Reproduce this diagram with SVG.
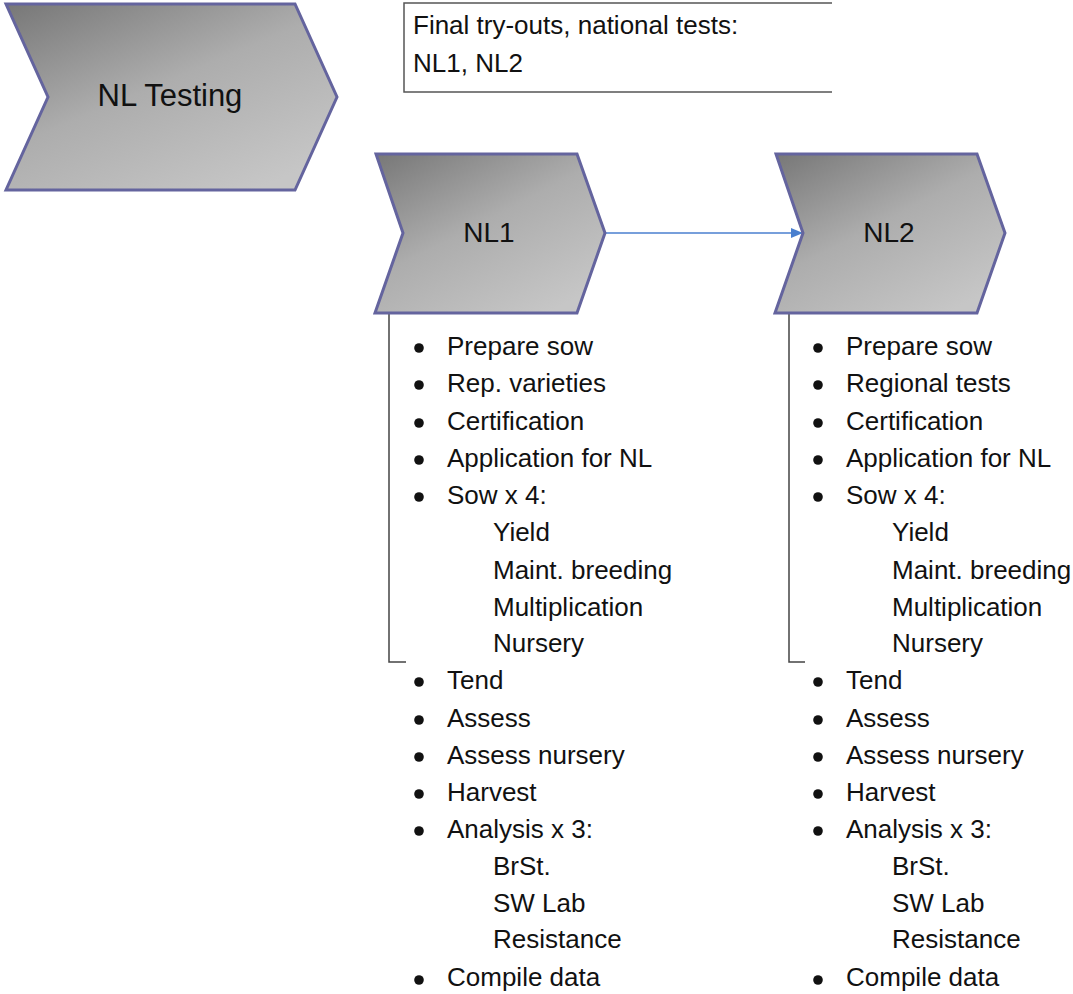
<svg xmlns="http://www.w3.org/2000/svg" width="1073" height="994" viewBox="0 0 1073 994">
  <defs>
    <linearGradient id="chevFill" x1="0" y1="0" x2="0.75" y2="1">
      <stop offset="0" stop-color="#777777"/>
      <stop offset="0.5" stop-color="#adadad"/>
      <stop offset="1" stop-color="#c6c6c6"/>
    </linearGradient>
    <marker id="arrowHead" viewBox="0 0 12 10" refX="12" refY="5" markerWidth="12" markerHeight="10" markerUnits="userSpaceOnUse" orient="auto">
      <path d="M0,0 L12,5 L0,10 Z" fill="#4a7fcf"/>
    </marker>
  </defs>
  <style>
    .chev { fill: url(#chevFill); stroke: #64649e; stroke-width: 3; stroke-linejoin: miter; }
    .title { font-family: "Liberation Sans", Arial, sans-serif; fill: #111; text-anchor: middle; }
    .txt { font-family: "Liberation Sans", Arial, sans-serif; font-size: 26px; fill: #111; }
    .bul { fill: #111; }
    .frame { fill: none; stroke: #555; stroke-width: 1.5; }
    .brk { fill: none; stroke: #444; stroke-width: 1.5; }
    .conn { stroke: #4a7fcf; stroke-width: 1.5; fill: none; }
  </style>
  <rect width="1073" height="994" fill="#ffffff"/>

  <!-- top-level phase -->
  <g id="nl-testing">
    <path class="chev" d="M6,4 L295,4 L337,97 L295,190 L6,190 L48,97 Z"/>
    <text class="title" x="170" y="106" font-size="31">NL Testing</text>
  </g>

  <!-- description box (open on the right) -->
  <g id="description">
    <path class="frame" d="M832,3 L404,3 L404,92 L832,92"/>
    <text class="txt" x="413" y="34">Final try-outs, national tests:</text>
    <text class="txt" x="413" y="72">NL1, NL2</text>
  </g>

  <!-- connectors -->
  <g id="connectors">
    <line class="conn" x1="605" y1="233" x2="803" y2="233" marker-end="url(#arrowHead)"/>
    <path class="brk" d="M389,313 L389,662 L406,662"/>
    <path class="brk" d="M789,313 L789,662 L805,662"/>
  </g>

  <!-- NL1 step -->
  <g id="nl1">
    <path class="chev" d="M376,154 L577,154 L605,233 L577,313 L375,313 L403,233 Z"/>
    <text class="title" x="489" y="242" font-size="28">NL1</text>
    <g class="bul">
      <circle cx="419" cy="348" r="4.8"/>
      <circle cx="419" cy="385" r="4.8"/>
      <circle cx="419" cy="423" r="4.8"/>
      <circle cx="419" cy="460" r="4.8"/>
      <circle cx="419" cy="497" r="4.8"/>
      <circle cx="419" cy="682" r="4.8"/>
      <circle cx="419" cy="720" r="4.8"/>
      <circle cx="419" cy="757" r="4.8"/>
      <circle cx="419" cy="794" r="4.8"/>
      <circle cx="419" cy="831" r="4.8"/>
      <circle cx="419" cy="980" r="4.8"/>
    </g>
    <text class="txt" x="447" y="355">Prepare sow</text>
    <text class="txt" x="447" y="392">Rep. varieties</text>
    <text class="txt" x="447" y="430">Certification</text>
    <text class="txt" x="447" y="467">Application for NL</text>
    <text class="txt" x="447" y="504">Sow x 4:</text>
    <text class="txt" x="493" y="541">Yield</text>
    <text class="txt" x="493" y="579">Maint. breeding</text>
    <text class="txt" x="493" y="616">Multiplication</text>
    <text class="txt" x="493" y="652">Nursery</text>
    <text class="txt" x="447" y="689">Tend</text>
    <text class="txt" x="447" y="727">Assess</text>
    <text class="txt" x="447" y="764">Assess nursery</text>
    <text class="txt" x="447" y="801">Harvest</text>
    <text class="txt" x="447" y="838">Analysis x 3:</text>
    <text class="txt" x="493" y="875">BrSt.</text>
    <text class="txt" x="493" y="912">SW Lab</text>
    <text class="txt" x="493" y="948">Resistance</text>
    <text class="txt" x="447" y="986">Compile data</text>
  </g>

  <!-- NL2 step -->
  <g id="nl2">
    <path class="chev" d="M776,154 L977,154 L1005,233 L977,313 L775,313 L803,233 Z"/>
    <text class="title" x="889" y="242" font-size="28">NL2</text>
    <g class="bul">
      <circle cx="818" cy="348" r="4.8"/>
      <circle cx="818" cy="385" r="4.8"/>
      <circle cx="818" cy="423" r="4.8"/>
      <circle cx="818" cy="460" r="4.8"/>
      <circle cx="818" cy="497" r="4.8"/>
      <circle cx="818" cy="682" r="4.8"/>
      <circle cx="818" cy="720" r="4.8"/>
      <circle cx="818" cy="757" r="4.8"/>
      <circle cx="818" cy="794" r="4.8"/>
      <circle cx="818" cy="831" r="4.8"/>
      <circle cx="818" cy="980" r="4.8"/>
    </g>
    <text class="txt" x="846" y="355">Prepare sow</text>
    <text class="txt" x="846" y="392">Regional tests</text>
    <text class="txt" x="846" y="430">Certification</text>
    <text class="txt" x="846" y="467">Application for NL</text>
    <text class="txt" x="846" y="504">Sow x 4:</text>
    <text class="txt" x="892" y="541">Yield</text>
    <text class="txt" x="892" y="579">Maint. breeding</text>
    <text class="txt" x="892" y="616">Multiplication</text>
    <text class="txt" x="892" y="652">Nursery</text>
    <text class="txt" x="846" y="689">Tend</text>
    <text class="txt" x="846" y="727">Assess</text>
    <text class="txt" x="846" y="764">Assess nursery</text>
    <text class="txt" x="846" y="801">Harvest</text>
    <text class="txt" x="846" y="838">Analysis x 3:</text>
    <text class="txt" x="892" y="875">BrSt.</text>
    <text class="txt" x="892" y="912">SW Lab</text>
    <text class="txt" x="892" y="948">Resistance</text>
    <text class="txt" x="846" y="986">Compile data</text>
  </g>
</svg>
